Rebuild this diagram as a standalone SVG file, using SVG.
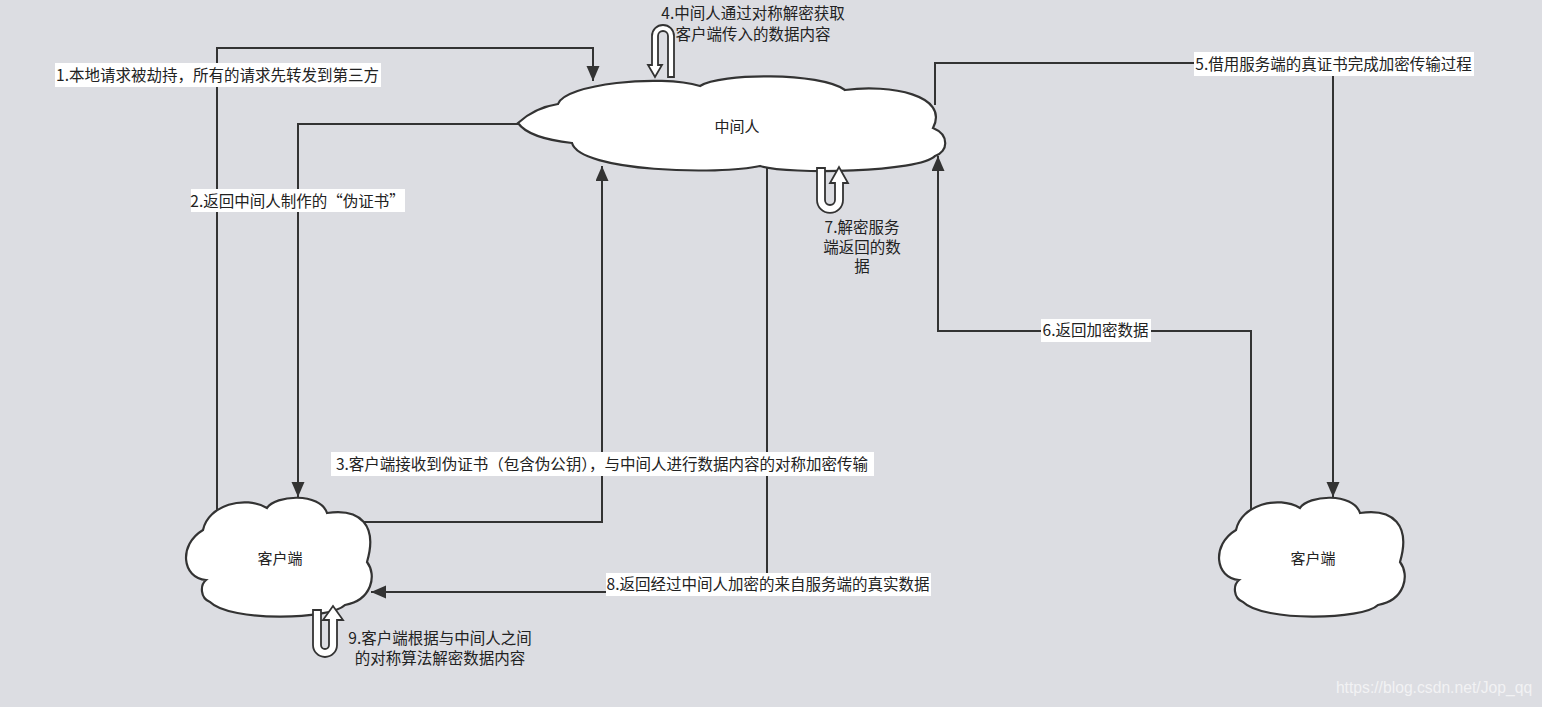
<svg xmlns="http://www.w3.org/2000/svg" width="1542" height="707" viewBox="0 0 1542 707">
<defs>
<marker id="ah" markerUnits="userSpaceOnUse" markerWidth="16" markerHeight="14" refX="15" refY="6.5" orient="auto">
<path d="M0,0 L15,6.5 L0,13 Z" fill="#333"/>
</marker>
<style>
.ln{fill:none;stroke:#333;stroke-width:2;marker-end:url(#ah)}
.lb{fill:#fff}
.t{font-family:"Noto Sans CJK SC","Liberation Sans",sans-serif;font-size:15.5px;fill:#222;text-anchor:middle}
.cl{fill:#fff;stroke:#333;stroke-width:2.2}
.ut{fill:#fff;stroke:#333;stroke-width:1.8;stroke-linejoin:miter}
.ct{font-family:"Noto Sans CJK SC","Liberation Sans",sans-serif;font-size:15px;fill:#222;text-anchor:middle}
</style>
</defs>
<rect x="0" y="0" width="1542" height="707" fill="#dcdde2"/>
<g id="connectors">
<path class="ln" d="M217 515 L217 48 L593 48 L593 81"/>
<path class="ln" d="M530 124 L298 124 L298 497"/>
<path class="ln" d="M360 522 L602 522 L602 166"/>
<path class="ln" d="M935 105 L935 63 L1333 63 L1333 497"/>
<path class="ln" d="M1251 512 L1251 331 L938 331 L938 156"/>
<path class="ln" d="M767 160 L767 592 L371 592"/>
<rect class="lb" x="55" y="63" width="326" height="24"/>
<text class="t" x="217.5" y="80.5">1.本地请求被劫持，所有的请求先转发到第三方</text>
<rect class="lb" x="191" y="189" width="214" height="23"/>
<text class="t" x="297.5" y="206.5">2.返回中间人制作的“伪证书”</text>
<rect class="lb" x="331" y="452" width="543" height="24"/>
<text class="t" x="602" y="469.5">3.客户端接收到伪证书（包含伪公钥），与中间人进行数据内容的对称加密传输</text>
<rect class="lb" x="1194" y="52" width="280" height="24"/>
<text class="t" x="1333.5" y="69.5">5.借用服务端的真证书完成加密传输过程</text>
<rect class="lb" x="1041" y="319" width="110" height="23"/>
<text class="t" x="1095.5" y="335.5">6.返回加密数据</text>
<rect class="lb" x="606" y="573" width="325" height="23"/>
<text class="t" x="768" y="589.5">8.返回经过中间人加密的来自服务端的真实数据</text>
</g>
<g id="mitm">
<path class="cl" d="M518 123 C530 112 545 106 558 104 C565 84 660 74 700 86 C720 73 820 72 845 90 C890 84 950 95 933 128 C950 135 948 152 935 156 C920 172 790 175 760 166 C720 175 580 172 572 143 C545 140 525 133 518 123 Z"/>
<text class="ct" x="737" y="131.5">中间人</text>
</g>
<g id="client-left">
<path class="cl" d="M203 530 C208 505 245 495 267 508 C275 495 320 492 327 513 C360 508 378 525 367 562 C377 575 372 600 345 605 C330 620 230 622 210 602 C200 598 200 585 206 580 C182 578 178 545 203 530 Z"/>
<text class="ct" x="280" y="563.5">客户端</text>
</g>
<g id="client-right">
<path class="cl" transform="translate(1033 0)" d="M203 530 C208 505 245 495 267 508 C275 495 320 492 327 513 C360 508 378 525 367 562 C377 575 372 600 345 605 C330 620 230 622 210 602 C200 598 200 585 206 580 C182 578 178 545 203 530 Z"/>
<text class="ct" x="1313" y="563.5">客户端</text>
</g>
<g id="step4">
<path class="ut" d="M668 77 L668 36 A5 5 0 0 0 658 36 L658 65 L662 65 L655 77 L648 65 L652 65 L652 36 A11 11 0 0 1 674 36 L674 77 Z"/>
<text class="t" x="753" y="19" font-size="15">4.中间人通过对称解密获取</text>
<text class="t" x="753" y="39.5" font-size="15">客户端传入的数据内容</text>
</g>
<g id="step7">
<path class="ut" d="M817 168 L817 200 A13 13 0 0 0 843 200 L843 183 L848 183 L839 167 L830 183 L835 183 L835 200 A5 5 0 0 1 825 200 L825 168 Z"/>
<text class="t" x="862" y="232.5">7.解密服务</text>
<text class="t" x="862" y="252.5">端返回的数</text>
<text class="t" x="862" y="271.5">据</text>
</g>
<g id="step9">
<path class="ut" d="M313 610 L313 645 A12 12 0 0 0 337 645 L337 620 L343 620 L333 606 L323 620 L329 620 L329 645 A4 4 0 0 1 321 645 L321 610 Z"/>
<text class="t" x="440" y="643.5">9.客户端根据与中间人之间</text>
<text class="t" x="440" y="663.5">的对称算法解密数据内容</text>
</g>
<text x="1434" y="693" font-family="Liberation Sans, Arial, sans-serif" font-size="15.7" fill="#f2f2f4" text-anchor="middle">https://blog.csdn.net/Jop_qq</text>
</svg>
